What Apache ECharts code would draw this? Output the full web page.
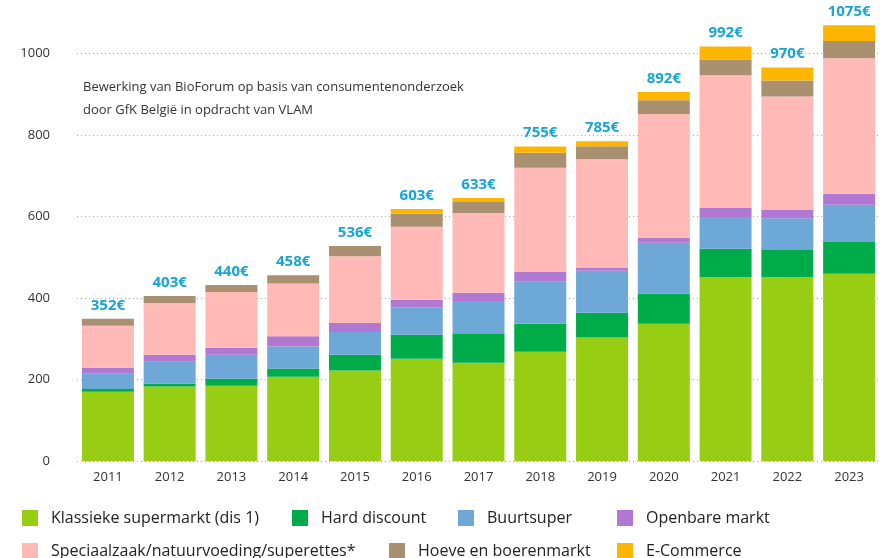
<!DOCTYPE html>
<html>
<head>
<meta charset="utf-8">
<script src="https://cdn.jsdelivr.net/npm/echarts@6/dist/echarts.min.js"></script>
<style>
  html, body { margin: 0; padding: 0; background: #fff; }
  #chart { width: 880px; height: 558px; }
</style>
</head>
<body>
<div id="chart"></div>
<script>
// years + totals shown above bars
const years = ['2011', '2012', '2013', '2014', '2015', '2016', '2017', '2018', '2019', '2020', '2021', '2022', '2023'];
const totalLabels = ['352€', '403€', '440€', '458€', '536€', '603€', '633€', '755€', '785€', '892€', '992€', '970€', '1075€'];

// segment values
const klassiek   = [170, 183, 185, 207, 222, 251, 241, 268, 303, 337, 452, 452, 460];
const hardDisc   = [7, 7, 17, 20, 39, 59, 71, 69, 61, 74, 69, 66, 78];
const buurtsuper = [37, 54, 59, 54, 56, 67, 81, 103, 103, 125, 78, 78, 91];
const openbaar   = [15, 17, 17, 25, 22, 19, 20, 25, 7, 12, 22, 20, 27];
const speciaal   = [103, 127, 137, 130, 164, 179, 196, 255, 267, 304, 326, 279, 333];
const hoeve      = [17, 17, 17, 20, 25, 32, 27, 37, 32, 34, 39, 39, 42];
const ecommerce  = [0, 0, 0, 0, 0, 12, 10, 15, 12, 20, 32, 32, 39];

const FONT = '"Open Sans", "Noto Sans", sans-serif';

const seriesDefs = [
  { name: 'Klassieke supermarkt (dis 1)', data: klassiek, color: '#97cd12' },
  { name: 'Hard discount', data: hardDisc, color: '#00ab4a' },
  { name: 'Buurtsuper', data: buurtsuper, color: '#6ea8d6' },
  { name: 'Openbare markt', data: openbaar, color: '#b178d3' },
  { name: 'Speciaalzaak/natuurvoeding/superettes*', data: speciaal, color: '#ffbab8' },
  { name: 'Hoeve en boerenmarkt', data: hoeve, color: '#a89070' },
  { name: 'E-Commerce', data: ecommerce, color: '#fdb500' },
];

const series = seriesDefs.map((s, i) => {
  const out = {
    name: s.name,
    type: 'bar',
    stack: 'total',
    barWidth: 52,
    data: s.data,
    itemStyle: { color: s.color },
    emphasis: { disabled: true },
  };
  // top series carries the total label
  if (i === seriesDefs.length - 1) {
    out.label = {
      show: true,
      position: 'top',
      distance: 6,
      formatter: p => totalLabels[p.dataIndex],
      color: '#17a5d6',
      fontFamily: FONT,
      fontWeight: 'bold',
      fontSize: 15,
    };
  }
  return out;
});

// legend placement: one legend per item so the columns line up like the print
const legendSpots = [
  [0, 17, 505], [1, 287, 505], [2, 453, 505], [3, 612, 505],
  [4, 17, 538], [5, 384, 538], [6, 612, 538],
];
const legends = legendSpots.map(([i, left, top]) => ({
  data: [seriesDefs[i].name],
  left, top,
  itemWidth: 16, itemHeight: 16, itemGap: 0,
  icon: 'rect',
  selectedMode: false,
  textStyle: { color: '#222', fontSize: 16, fontFamily: FONT, padding: [0, 0, 0, 8] },
}));

const chart = echarts.init(document.getElementById('chart'));
chart.setOption({
  animation: false,
  textStyle: { fontFamily: FONT },
  grid: { left: 77, right: -13, top: 13, bottom: 97 },
  legend: legends,
  xAxis: {
    type: 'category',
    data: years,
    axisLine: { show: false },
    axisTick: { show: false },
    axisLabel: { color: '#333', fontSize: 13, margin: 10 },
  },
  yAxis: {
    type: 'value',
    min: 0, max: 1100, interval: 200,
    axisLine: { show: false },
    axisTick: { show: false },
    axisLabel: { color: '#333', fontSize: 13, margin: 27, showMaxLabel: false, formatter: v => String(v) },
    splitLine: {
      showMaxLine: false,
      lineStyle: { color: '#aaa', type: [1, 3], width: 1 },
    },
  },
  graphic: [{
    type: 'text',
    left: 83, top: 76,
    style: {
      text: 'Bewerking van BioForum op basis van consumentenonderzoek\ndoor GfK België in opdracht van VLAM',
      fill: '#333',
      font: '13px ' + FONT,
      lineHeight: 23,
    },
  }],
  series,
});
</script>
</body>
</html>
